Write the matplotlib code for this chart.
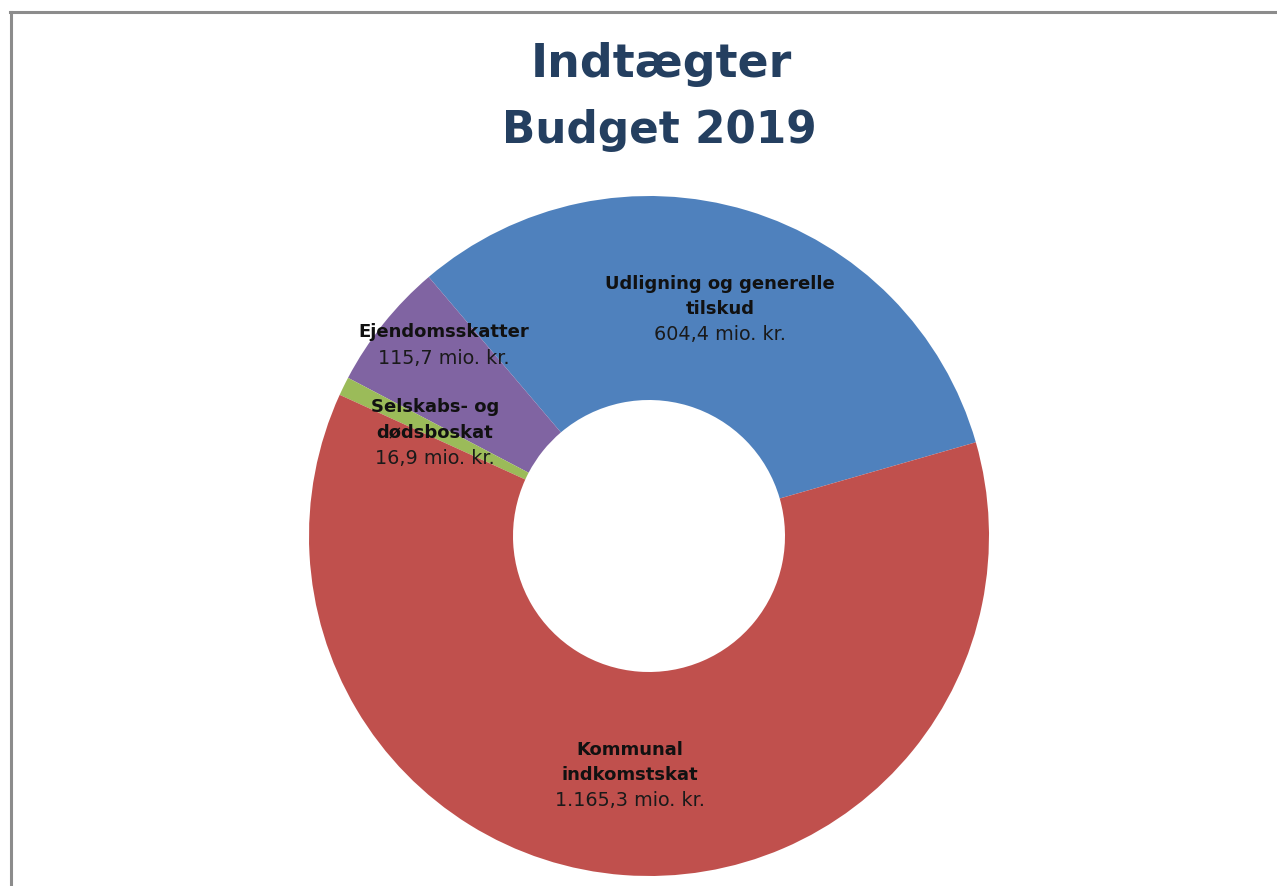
import matplotlib
matplotlib.use("Agg")
import matplotlib.pyplot as plt
from matplotlib.lines import Line2D

# ---- data ----
categories = ["Udligning og generelle\ntilskud", "Ejendomsskatter",
              "Selskabs- og\ndødsboskat", "Kommunal\nindkomstskat"]
values = [604.4, 115.7, 16.9, 1165.3]
value_labels = ["604,4 mio. kr.", "115,7 mio. kr.", "16,9 mio. kr.", "1.165,3 mio. kr."]
colors = ["#4F81BD", "#8064A2", "#9BBB59", "#C0504D"]
title_lines = ["Indtægter", "Budget 2019"]

W, H = 1277, 887
fig = plt.figure(figsize=(W / 100, H / 100), dpi=100)
ax = fig.add_axes([0, 0, 1, 1])
ax.set_xlim(0, W)
ax.set_ylim(0, H)
ax.set_aspect("equal")
ax.axis("off")

cx, cy_px, R = 649, 537, 340
ax.pie(values, colors=colors, startangle=16, counterclock=True,
       radius=R, center=(cx, H - cy_px),
       wedgeprops=dict(width=R * 0.6, edgecolor="none", linewidth=0),
       frame=True)
ax.set_xlim(0, W)
ax.set_ylim(0, H)
ax.axis("off")

# frame
ax.add_line(Line2D([10, W], [H - 13, H - 13], color="#8c8c8c", lw=2.2))
ax.add_line(Line2D([10.5, 10.5], [0, H - 13], color="#8c8c8c", lw=2.2))

fam = ["DejaVu Sans"]
# title
ax.text(661, H - 64, title_lines[0], ha="center", va="center", fontsize=33,
        fontweight="bold", color="#243F60", family=fam)
ax.text(659, H - 131, title_lines[1], ha="center", va="center", fontsize=31.5,
        fontweight="bold", color="#243F60", family=fam)

# labels: (x, y of first line) in pixel coords
label_pos = [(720, 284), (444, 332), (435, 407), (630, 750)]
lh = 25
for name, val, (x, y) in zip(categories, value_labels, label_pos):
    lines = name.split("\n")
    for i, ln in enumerate(lines):
        ax.text(x, H - (y + i * lh), ln, ha="center", va="center",
                fontsize=13, fontweight="bold", color="#111111", family=fam)
    ax.text(x, H - (y + len(lines) * lh + 1), val, ha="center", va="center",
            fontsize=13.8, color="#1a1a1a", family=fam)

fig.savefig("out.png", dpi=100)
